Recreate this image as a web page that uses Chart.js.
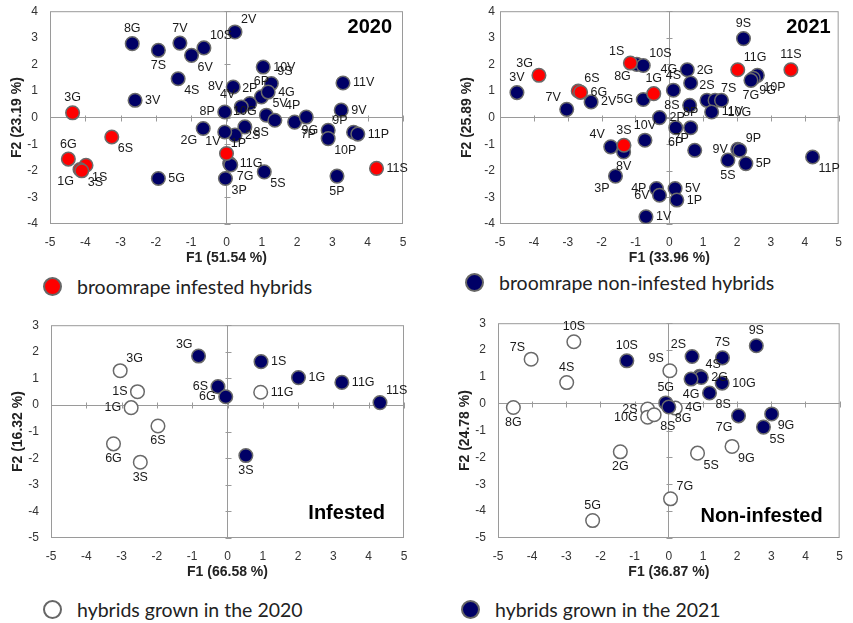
<!DOCTYPE html>
<html>
<head>
<meta charset="utf-8">
<script src="https://cdn.jsdelivr.net/npm/chart.js@4.4.1/dist/chart.umd.min.js"></script>
<style>
  body { margin: 0; background: #fff; width: 853px; height: 623px; position: relative; overflow: hidden; }
  canvas { position: absolute; }
  .leg { position: absolute; display: flex; align-items: center; font-family: Lato, "Noto Sans", sans-serif; font-size: 19.5px; color: #222; white-space: nowrap; }
  .dot { width: 19px; height: 19px; box-sizing: border-box; border-radius: 50%; border: 2px solid #666; margin-right: 15px; }
</style>
</head>
<body>
<canvas id="c2020"></canvas>
<canvas id="c2021"></canvas>
<canvas id="cInf"></canvas>
<canvas id="cNon"></canvas>

<div class="leg" style="left:43px;top:275px"><span class="dot" style="background:#ff0000"></span>broomrape infested hybrids</div>
<div class="leg" style="left:465px;top:271px"><span class="dot" style="background:#000066"></span>broomrape non-infested hybrids</div>
<div class="leg" style="left:43px;top:598px"><span class="dot" style="background:#fff"></span>hybrids grown in the 2020</div>
<div class="leg" style="left:461px;top:598px"><span class="dot" style="background:#000066"></span>hybrids grown in the 2021</div>

<script>
// ---- 2020 PCA (F1 51.54 %, F2 23.19 %)
const pca20InfNames = ['3G','6S','6G','1S','1G','3S','1V','11S'];
const pca20InfX = [-4.36,-3.25,-4.48,-3.98,-4.15,-4.1,0.0,4.25];
const pca20InfY = [0.18,-0.73,-1.56,-1.79,-1.95,-2.0,-1.35,-1.91];
const pca20InfSide = ['n','se','n','se','sw','se','nw','e'];

const pca20NonNames = ['8G','7S','7V','6V','10S','2V','4S','3V','10V','6P','9S','8V','4G','2P','4V','8P','5V','8S','7P','4P','10G','2S','1P','2G','11G','7G','3P','5S','5G','9G','10P','9P','11P','9V','11V','5P'];
const pca20NonX = [-2.67,-1.93,-1.32,-0.99,-0.64,0.24,-1.37,-2.59,1.04,0.99,1.27,0.19,1.18,0.66,0.42,-0.05,1.13,1.37,1.93,2.26,0.52,0.24,-0.05,-0.66,0.09,0.12,-0.03,1.07,-1.93,2.88,2.88,3.6,3.72,3.25,3.3,3.13];
const pca20NonY = [2.78,2.53,2.80,2.34,2.62,3.22,1.46,0.65,1.90,0.78,1.28,1.15,0.96,0.53,0.40,0.21,0.09,-0.10,-0.17,0.02,-0.35,-0.66,-0.54,-0.41,-1.73,-1.78,-2.29,-2.04,-2.29,-0.48,-0.79,-0.55,-0.62,0.28,1.30,-2.20];
const pca20NonSide = ['n','s','n','se','ne','ne','se','e','e','n','ne','w','e','n','nw','w','ne','sw','se','nw','n','e','se','sw','e','se','se','se','e','w','se','nw','e','e','e','s'];

// ---- 2021 PCA (F1 33.96 %, F2 25.89 %)
const pca21InfNames = ['3G','6S','6G','1S','1G','3S','11G','11S'];
const pca21InfX = [-3.85,-2.69,-2.62,-1.15,-0.46,-1.34,2.02,3.59];
const pca21InfY = [1.59,1.0,0.95,2.05,0.90,-1.04,1.80,1.80];
const pca21InfSide = ['nw','ne','e','nw','n','n','ne','n'];

const pca21NonNames = ['3V','7V','2V','8G','10S','5G','4S','4G','2G','2S','7S','10G','11V','8S','2P','6P','8P','7P','10V','4V','8V','3P','9V','9P','5S','5P','11P','4P','6V','5V','1P','1V','9S','10P','9G','7G'];
const pca21NonX = [-4.5,-3.03,-2.31,-0.96,-0.77,-0.77,0.12,0.53,0.63,1.11,1.35,1.54,1.25,0.60,-0.29,0.19,0.63,0.75,-0.72,-1.73,-1.35,-1.59,2.02,2.08,1.73,2.26,4.23,-0.38,-0.29,0.17,0.22,-0.69,2.19,2.6,2.48,2.41];
const pca21NonY = [0.94,0.31,0.59,2.0,1.96,0.68,1.03,1.80,1.30,0.65,0.65,0.65,0.21,0.46,0.0,-0.38,-0.38,-1.23,-0.85,-1.10,-1.29,-2.2,-1.19,-1.23,-1.6,-1.73,-1.48,-2.67,-2.92,-2.67,-3.1,-3.73,2.97,1.59,1.48,1.40];
const pca21NonSide = ['n','nw','e','sw','ne','w','n','w','ne','n','ne','se','e','w','e','s','n','nw','n','nw','s','sw','w','ne','s','e','se','w','w','e','e','e','n','se','se','s'];

// ---- infested hybrids (F1 66.58 %, F2 16.32 %)
const inf20Names = ['3G','1S','1G','6S','6G','3S','11G'];
const inf20X = [-3.04,-2.55,-2.73,-1.97,-3.23,-2.47,0.94];
const inf20Y = [1.29,0.5,-0.1,-0.79,-1.46,-2.15,0.48];
const inf20Side = ['ne','w','w','s','s','s','e'];

const inf21Names = ['3G','1S','1G','11G','11S','6S','6G','3S'];
const inf21X = [-0.82,0.95,2.01,3.24,4.32,-0.27,-0.05,0.52];
const inf21Y = [1.84,1.63,1.03,0.85,0.09,0.69,0.31,-1.9];
const inf21Side = ['nw','e','e','e','ne','w','w','s'];

// ---- non-infested hybrids (F1 36.87 %, F2 24.78 %)
const non20Names = ['10S','7S','4S','8G','9S','2S','10G','8S','4G','2G','5S','9G','7G','5G'];
const non20X = [-2.78,-4.03,-2.99,-4.55,0.03,-0.62,-0.62,-0.43,0.19,-1.42,0.84,1.85,0.05,-2.23];
const non20Y = [2.31,1.66,0.79,-0.14,1.23,-0.2,-0.5,-0.41,-0.16,-1.79,-1.84,-1.59,-3.54,-4.35];
const non20Side = ['n','nw','n','s','nw','w','w','se','e','s','se','se','ne','n'];

const non21Names = ['10S','2S','7S','9S','4S','2G','4G','10G','8S','5G','8G','7G','9G','5S'];
const non21X = [-1.23,0.68,1.57,2.56,0.90,0.95,0.65,1.56,1.19,-0.09,0.0,2.04,3.01,2.77];
const non21Y = [1.6,1.76,1.71,2.16,1.02,0.98,0.92,0.77,0.40,0.03,-0.12,-0.45,-0.38,-0.87];
const non21Side = ['n','nw','n','n','ne','e','s','e','se','n','se','sw','se','se'];

const xTicksMin = -5, xTicksMax = 5;

const RED = '#ff0000', NAVY = '#000066', WHITE = '#ffffff', EDGE = '#6a6a6a', AXIS = '#9a9a9a';
const FONT = '"Liberation Sans", Arial, sans-serif';

// label placement around the marker: dx, dy, align
const SIDES = {
  n: [0, -15, 'center'], s: [0, 15, 'center'], e: [10, 0, 'left'], w: [-10, 0, 'right'],
  ne: [6, -12, 'left'], nw: [-6, -12, 'right'], se: [6, 12, 'left'], sw: [-6, 12, 'right']
};

const pointLabels = {
  id: 'pointLabels',
  afterDatasetsDraw(chart) {
    const ctx = chart.ctx;
    ctx.save();
    ctx.font = '12.5px ' + FONT;
    ctx.fillStyle = '#1a1a1a';
    ctx.textBaseline = 'middle';
    chart.data.datasets.forEach((ds, i) => {
      chart.getDatasetMeta(i).data.forEach((pt, j) => {
        const s = SIDES[ds.sides[j]] || SIDES.e;
        ctx.textAlign = s[2];
        ctx.fillText(ds.names[j], pt.x + s[0], pt.y + s[1]);
      });
    });
    ctx.restore();
  }
};

// box round the plot, small tick marks on the zero axes, and the corner caption
const frame = {
  id: 'frame',
  beforeDatasetsDraw(chart) {
    const { ctx, chartArea: a, scales: { x, y } } = chart;
    ctx.save();
    ctx.strokeStyle = AXIS;
    ctx.lineWidth = 1;
    ctx.strokeRect(a.left + 0.5, a.top + 0.5, a.width - 1, a.height - 1);
    const x0 = Math.round(x.getPixelForValue(0)) + 0.5;
    const y0 = Math.round(y.getPixelForValue(0)) + 0.5;
    ctx.beginPath();
    x.ticks.forEach(t => {
      const px = Math.round(x.getPixelForValue(t.value)) + 0.5;
      ctx.moveTo(px, y0 - 3); ctx.lineTo(px, y0 + 3);
    });
    y.ticks.forEach(t => {
      const py = Math.round(y.getPixelForValue(t.value)) + 0.5;
      ctx.moveTo(x0 - 3, py); ctx.lineTo(x0 + 3, py);
    });
    ctx.stroke();
    ctx.restore();
  },
  afterDraw(chart, args, opts) {
    if (!opts.text) return;
    const { ctx, chartArea: a } = chart;
    ctx.save();
    ctx.font = 'bold 20px ' + FONT;
    ctx.fillStyle = '#000';
    ctx.textAlign = 'right';
    ctx.textBaseline = 'middle';
    const ty = opts.bottom ? a.bottom - opts.dy : a.top + opts.dy;
    ctx.fillText(opts.text, a.right - opts.dx, ty);
    ctx.restore();
  }
};

function series(names, xs, ys, sides, fill) {
  return {
    names, sides,
    data: xs.map((x, i) => ({ x, y: ys[i] })),
    backgroundColor: fill,
    borderColor: EDGE,
    borderWidth: 1.5,
    pointRadius: 6.8,
    pointHoverRadius: 6.8
  };
}

function config(yMin, yMax, xTitle, yTitle, datasets, corner, padRight, yPad) {
  const grid = {
    color: c => (c.tick && c.tick.value === 0 ? AXIS : 'rgba(0,0,0,0)'),
    drawTicks: false
  };
  return {
    type: 'scatter',
    data: { datasets },
    plugins: [frame, pointLabels],
    options: {
      responsive: false,
      maintainAspectRatio: false,
      animation: false,
      devicePixelRatio: 1,
      layout: { padding: { left: 0, top: 12, right: padRight, bottom: 0 } },
      plugins: { legend: { display: false }, tooltip: { enabled: false }, frame: corner },
      scales: {
        x: {
          min: xTicksMin, max: xTicksMax,
          ticks: { stepSize: 1, color: '#333', padding: 11, font: { family: FONT, size: 12 } },
          grid, border: { display: false },
          title: { display: true, text: xTitle, color: '#222', padding: { top: 0, bottom: 3 }, font: { family: FONT, size: 14, weight: 'bold' } },
          afterFit: s => { s.height = 46; }
        },
        y: {
          min: yMin, max: yMax,
          ticks: { stepSize: 1, color: '#333', padding: yPad, font: { family: FONT, size: 12 } },
          grid, border: { display: false },
          title: { display: true, text: yTitle, color: '#222', padding: { top: 9, bottom: 0 }, font: { family: FONT, size: 14, weight: 'bold' } },
          afterFit: s => { s.width = 50; }
        }
      }
    }
  };
}

// box = plot area [left, top, right, bottom] in page pixels
function panel(id, box, makeCfg, padRight) {
  const cv = document.getElementById(id);
  const left = box[0] - 50;
  let top = box[1] - 12;
  cv.width = box[2] - left + padRight;
  cv.height = box[3] + 46 - top;
  cv.style.left = left + 'px';
  cv.style.top = top + 'px';
  let chart = new Chart(cv, makeCfg());
  // the layout can push the plot area a little; grow the canvas so it lands on the box
  const a = chart.chartArea;
  const dTop = Math.round(a.top - 12);
  const dBot = Math.round(cv.height - 46 - a.bottom);
  if (dTop || dBot) {
    const w = cv.width, h = cv.height;
    chart.destroy();
    top -= dTop;
    cv.width = w;
    cv.height = h + dTop + dBot;
    cv.style.top = top + 'px';
    chart = new Chart(cv, makeCfg());
  }
  return chart;
}

panel('c2020', [50, 11, 403, 224], () => config(-4, 4, 'F1 (51.54 %)', 'F2 (23.19 %)', [
  series(pca20InfNames, pca20InfX, pca20InfY, pca20InfSide, RED),
  series(pca20NonNames, pca20NonX, pca20NonY, pca20NonSide, NAVY)
], { text: '2020', dx: 11, dy: 16 }, 17, 12), 17);

panel('c2021', [500, 11, 847, 224], () => config(-4, 4, 'F1 (33.96 %)', 'F2 (25.89 %)', [
  series(pca21InfNames, pca21InfX, pca21InfY, pca21InfSide, RED),
  series(pca21NonNames, pca21NonX, pca21NonY, pca21NonSide, NAVY)
], { text: '2021', dx: 8, dy: 16 }, 6, 5), 6);

panel('cInf', [51, 325, 404, 538], () => config(-5, 3, 'F1 (66.58 %)', 'F2 (16.32 %)', [
  series(inf21Names, inf21X, inf21Y, inf21Side, NAVY),
  series(inf20Names, inf20X, inf20Y, inf20Side, WHITE)
], { text: 'Infested', dx: 19, dy: 25, bottom: true }, 17, 12), 17);

panel('cNon', [498, 323, 849, 538], () => config(-5, 3, 'F1 (36.87 %)', 'F2 (24.78 %)', [
  series(non21Names, non21X, non21Y, non21Side, NAVY),
  series(non20Names, non20X, non20Y, non20Side, WHITE)
], { text: 'Non-infested', dx: 17, dy: 22, bottom: true }, 5, 12), 5);
</script>
</body>
</html>
